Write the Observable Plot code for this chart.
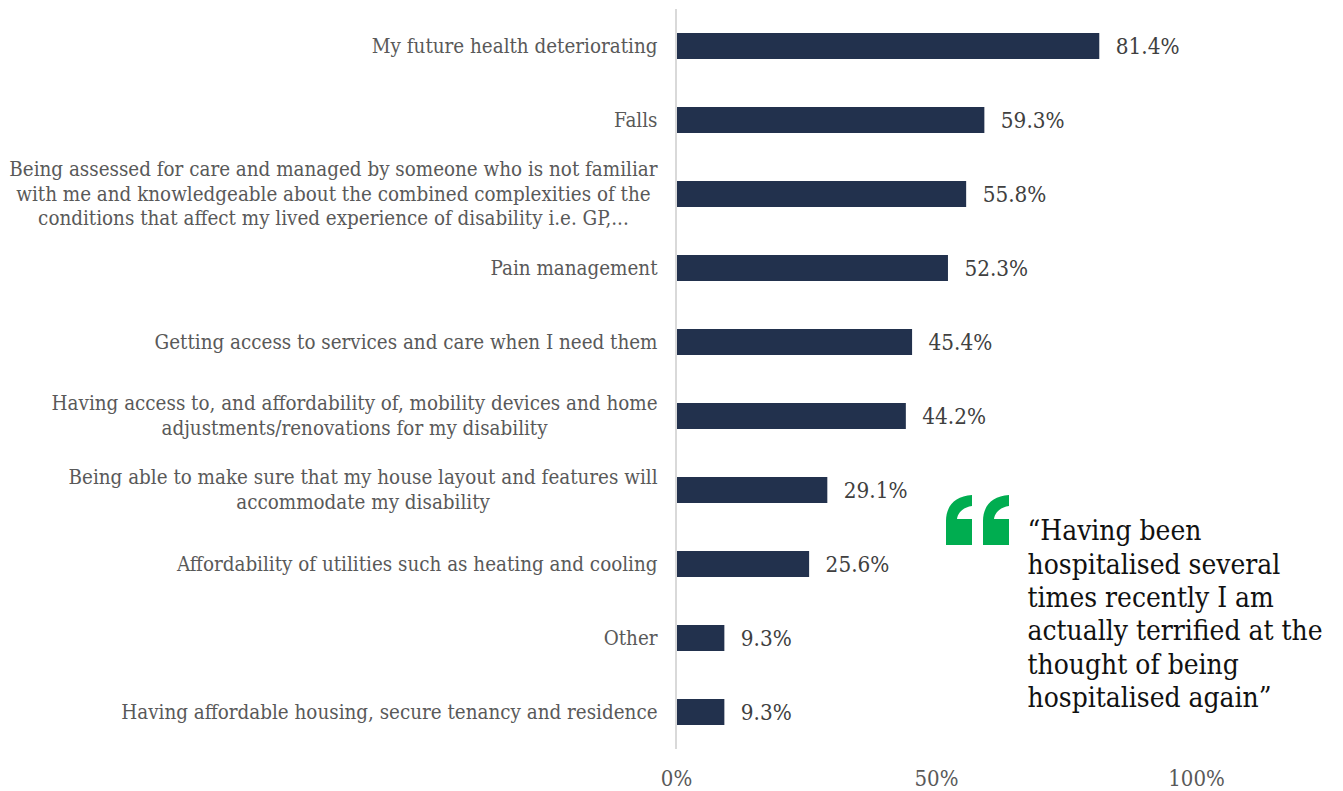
<!DOCTYPE html>
<html><head><meta charset="utf-8">
<script src="https://cdn.jsdelivr.net/npm/d3@7"></script>
<script src="https://cdn.jsdelivr.net/npm/@observablehq/plot@0.6"></script>
<style>html,body{margin:0;padding:0;background:#fff;overflow:hidden}svg{display:block}</style>
</head><body><div id="chart"></div>
<script>
const categories = [
  "My future health deteriorating",
  "Falls",
  "Being assessed for care and managed by someone who is not familiar\nwith me and knowledgeable about the combined complexities of the\nconditions that affect my lived experience of disability i.e. GP,...",
  "Pain management",
  "Getting access to services and care when I need them",
  "Having access to, and affordability of, mobility devices and home\nadjustments/renovations for my disability",
  "Being able to make sure that my house layout and features will\naccommodate my disability",
  "Affordability of utilities such as heating and cooling",
  "Other",
  "Having affordable housing, secure tenancy and residence"
];
const values = [81.4, 59.3, 55.8, 52.3, 45.4, 44.2, 29.1, 25.6, 9.3, 9.3];
const xTicks = [0, 50, 100];
const quote = "“Having been\nhospitalised several\ntimes recently I am\nactually terrified at the\nthought of being\nhospitalised again”";

const rows = categories.map((c, i) => ({category: c, value: values[i]}));
const FONT = "'DejaVu Serif Condensed','DejaVu Serif',serif";
const LABEL_SIZE = 20.4;
const ctx = document.createElement("canvas").getContext("2d");
ctx.font = `${LABEL_SIZE}px ${FONT}`;
const labelMarks = rows.map(r => {
  const w = Math.max(...r.category.split("\n").map(s => ctx.measureText(s).width));
  return Plot.text([r], {x: 0, y: "category", text: "category", textAnchor: "middle",
    dx: -19 - w / 2, dy: -2, lineHeight: 1.225, fontSize: LABEL_SIZE, fill: "#595959"});
});
const quoteGlyph = () => {
  const g = d3.create("svg:g").attr("fill", "#00AD50");
  for (const x of [946, 983]) {
    g.append("path").attr("d", `M${x} 545V521C${x} 506 ${x+9} 496 ${x+26} 495V506C${x+18} 507 ${x+12} 512 ${x+11} 519H${x+26}V545Z`);
  }
  return g.node();
};
const chart = Plot.plot({
  width: 1343, height: 791,
  marginLeft: 676, marginRight: 147, marginTop: 9, marginBottom: 42,
  style: {background: "#fff", fontFamily: FONT},
  x: {domain: [0, 100], axis: null},
  y: {domain: categories, paddingInner: 0.65, paddingOuter: 0.325, align: 0.5, axis: null},
  marks: [
    Plot.barX(rows, {x: "value", y: "category", fill: "#22314D"}),
    Plot.ruleX([0], {stroke: "#D9D9D9", strokeWidth: 2, dx: -0.5}),
    ...labelMarks,
    Plot.text(rows, {x: "value", y: "category", text: d => d.value.toFixed(1) + "%", textAnchor: "start",
      dx: 16, fontSize: 22.3, fill: "#404040"}),
    Plot.axisX({ticks: xTicks, tickFormat: d => d + "%", tickSize: 0, tickPadding: 21, fontSize: 22, fill: "#595959", label: null, anchor: "bottom"}),
    Plot.text([quote], {frameAnchor: "top-left", dx: 351, dy: 507, text: d => d, textAnchor: "start", lineAnchor: "top",
      lineHeight: 1.197, fontSize: 27.9, fill: "#111"}),
    quoteGlyph
  ]
});
document.getElementById("chart").append(chart);
</script></body></html>
